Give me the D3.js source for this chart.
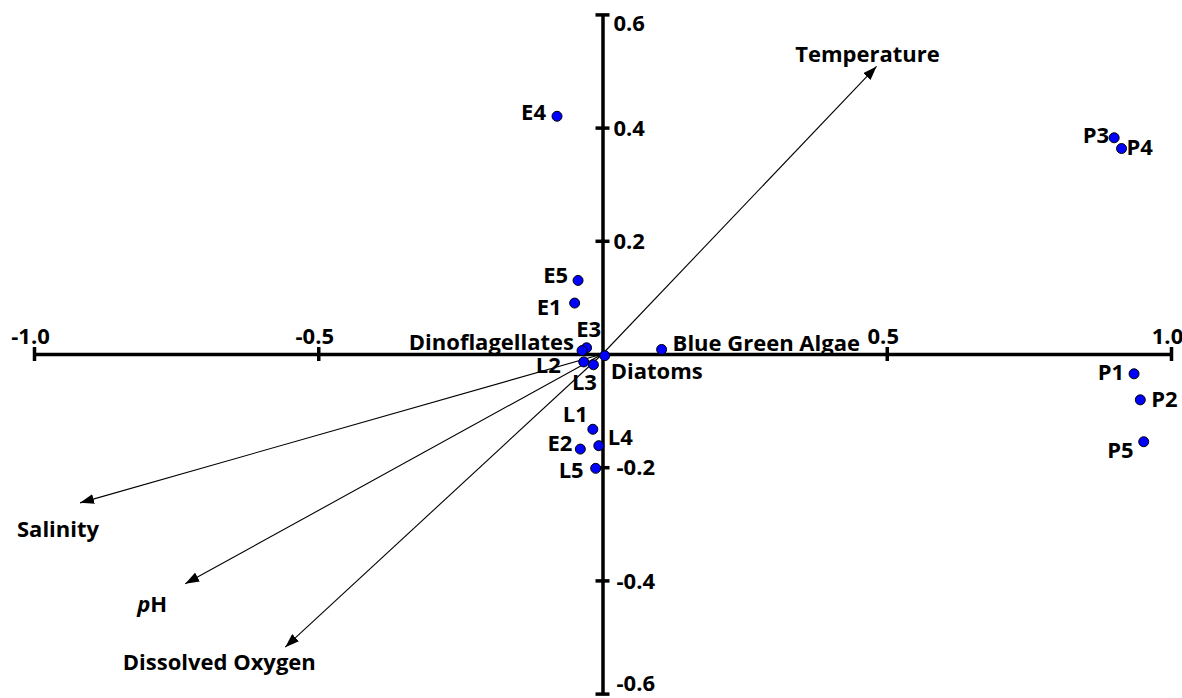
<!DOCTYPE html>
<html>
<head>
<meta charset="utf-8">
<script src="https://cdn.jsdelivr.net/npm/d3@7"></script>
<style>
  html, body { margin: 0; padding: 0; background: #fff; }
  svg { display: block; }
  text { font-family: "Open Sans", "DejaVu Sans", sans-serif; font-weight: 700; font-size: 22px; fill: #000; }
</style>
</head>
<body>
<svg id="chart" width="1182" height="698"></svg>
<script>
// ---- data ----
const xTickValues = [-1.0, -0.5, 0.5, 1.0];
const yTickValues = [0.6, 0.4, 0.2, -0.2, -0.4, -0.6];

const siteNames = ["E1", "E2", "E3", "E4", "E5", "L1", "L2", "L3", "L4", "L5", "P1", "P2", "P3", "P4", "P5"];
const siteX = [-0.049, -0.039, -0.028, -0.080, -0.043, -0.017, -0.033, -0.016, -0.0065, -0.012, 0.935, 0.946, 0.900, 0.913, 0.952];
const siteY = [0.090, -0.168, 0.011, 0.420, 0.130, -0.133, -0.014, -0.019, -0.162, -0.202, -0.035, -0.081, 0.382, 0.363, -0.155];

const speciesNames = ["Dinoflagellates", "Diatoms", "Blue Green Algae"];
const speciesX = [-0.036, 0.004, 0.104];
const speciesY = [0.006, -0.003, 0.008];

const envNames = ["Temperature", "Salinity", "pH", "Dissolved Oxygen"];
const envX = [0.482, -0.919, -0.734, -0.558];
const envY = [0.508, -0.263, -0.406, -0.518];

// ---- layout (label placement in pixels, relative to mark) ----
const labelPlacement = {
  E1: [-13, 12, "end"], E2: [-8, 2, "end"], E3: [2, -11, "middle"], E4: [-11, 4, "end"], E5: [-10, 3, "end"],
  L1: [-5, -7, "end"], L2: [-23, 11, "end"], L3: [-9, 25, "middle"], L4: [9, -1, "start"], L5: [-12, 10, "end"],
  P1: [-10, 6, "end"], P2: [11, 7, "start"], P3: [-5, 5, "end"], P4: [5, 6, "start"], P5: [-10, 16, "end"],
  "Dinoflagellates": [-8, -1, "end"], "Diatoms": [6, 23, "start"], "Blue Green Algae": [11, 2, "start"],
  "Temperature": [-9, -4, "middle"], "Salinity": [-22, 34, "middle"], "pH": [-33, 28, "middle"], "Dissolved Oxygen": [-66, 23, "middle"]
};

const W = 1182, H = 698;
const svg = d3.select("#chart");
const x = d3.scaleLinear().domain([-1, 1]).range([34, 1171]);
const y = d3.scaleLinear().domain([-0.6, 0.6]).range([693.6, 14.4]);

// arrow marker
svg.append("defs").append("marker")
  .attr("id", "arrow")
  .attr("viewBox", "0 0 14 10")
  .attr("refX", 14).attr("refY", 5)
  .attr("markerWidth", 14).attr("markerHeight", 10)
  .attr("markerUnits", "userSpaceOnUse")
  .attr("orient", "auto")
  .append("path").attr("d", "M0,0 L14,5 L0,10 Z").attr("fill", "#000");

// environmental vectors
const env = envNames.map((n, i) => ({ name: n, x: envX[i], y: envY[i] }));
svg.append("g").selectAll("line").data(env).join("line")
  .attr("x1", x(0)).attr("y1", y(0))
  .attr("x2", d => x(d.x)).attr("y2", d => y(d.y))
  .attr("stroke", "#000").attr("stroke-width", 1.1)
  .attr("marker-end", "url(#arrow)");

// axes
const fmt = d => d.toFixed(1);
const gx = svg.append("g").attr("transform", `translate(0,${y(0)})`)
  .call(d3.axisBottom(x).tickValues(xTickValues).tickSizeInner(7).tickSizeOuter(0).tickFormat(fmt));
gx.select(".domain").attr("stroke", "#000").attr("stroke-width", 3.5);
gx.selectAll(".tick line").attr("y1", -7).attr("y2", 7).attr("stroke", "#000").attr("stroke-width", 3.5);
gx.selectAll(".tick text").attr("y", -10).attr("dy", 0).attr("dx", -4)
  .attr("text-anchor", "middle").attr("font-size", null).attr("font-family", null).attr("fill", "#000");

const gy = svg.append("g").attr("transform", `translate(${x(0)},0)`)
  .call(d3.axisLeft(y).tickValues(yTickValues).tickSizeInner(7).tickSizeOuter(0).tickFormat(fmt));
gy.select(".domain").attr("stroke", "#000").attr("stroke-width", 3.5);
gy.selectAll(".tick line").attr("x1", -7).attr("x2", 7).attr("stroke", "#000").attr("stroke-width", 3.5);
gy.selectAll(".tick text")
  .attr("x", d => (d < 0 ? 14 : 11)).attr("dy", "0.35em")
  .attr("y", d => Math.min(Math.max(y(d), 23), 683) - y(d))
  .attr("text-anchor", "start").attr("font-size", null).attr("font-family", null).attr("fill", "#000");
svg.selectAll(".tick text").style("font-family", "'Open Sans', sans-serif").style("font-weight", 700).style("font-size", "22px");

// points
const pts = siteNames.map((n, i) => ({ name: n, x: siteX[i], y: siteY[i] }))
  .concat(speciesNames.map((n, i) => ({ name: n, x: speciesX[i], y: speciesY[i] })));
svg.append("g").selectAll("circle").data(pts).join("circle")
  .attr("cx", d => x(d.x)).attr("cy", d => y(d.y)).attr("r", 5)
  .attr("fill", "#0000ff").attr("stroke", "#000").attr("stroke-width", 1);

// point labels
svg.append("g").selectAll("text").data(pts).join("text")
  .attr("x", d => x(d.x) + labelPlacement[d.name][0])
  .attr("y", d => y(d.y) + labelPlacement[d.name][1])
  .attr("text-anchor", d => labelPlacement[d.name][2])
  .text(d => d.name);

// env labels
const envLabels = svg.append("g").selectAll("text").data(env).join("text")
  .attr("x", d => x(d.x) + labelPlacement[d.name][0])
  .attr("y", d => y(d.y) + labelPlacement[d.name][1])
  .attr("text-anchor", d => labelPlacement[d.name][2]);
envLabels.each(function(d) {
  const t = d3.select(this);
  if (d.name === "pH") {
    t.append("tspan").attr("font-style", "italic").text("p");
    t.append("tspan").text("H");
  } else {
    t.text(d.name);
  }
});
</script>
</body>
</html>
